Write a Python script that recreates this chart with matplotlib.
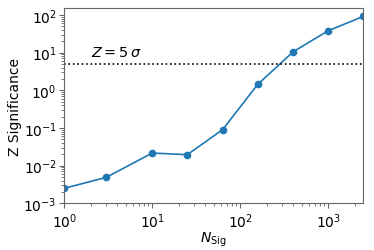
import matplotlib
matplotlib.use("Agg")
import matplotlib.pyplot as plt

n_sig = [1, 3, 10, 25, 63, 158, 400, 1000, 2500]
z_sig = [0.0025, 0.0049, 0.0216, 0.0195, 0.09, 1.43, 10.5, 38, 91]
z_threshold = 5

fig = plt.figure(figsize=(3.74, 2.51), dpi=100)
ax = fig.add_axes([0.172, 0.186, 0.799, 0.777])
ax.plot(n_sig, z_sig, marker='o', color='#1f77b4', markersize=4.5, linewidth=1.2)
ax.axhline(z_threshold, color='black', linestyle=':', linewidth=1.2)
ax.text(2, 7.9, r'$Z = 5\,\sigma$', fontsize=10.4)
ax.set_xscale('log')
ax.set_yscale('log')
ax.set_xlim(1, 2500)
ax.set_ylim(1e-3, 150)
ax.set_xlabel(r'$N_{\rm Sig}$', fontsize=10, labelpad=0)
ax.set_ylabel('Z Significance', fontsize=10, labelpad=1)
for s in ax.spines.values():
    s.set_color('0.4')
ax.tick_params(which='both', labelsize=10, color='0.4')
ax.tick_params(axis='x', pad=2)
ax.tick_params(axis='y', pad=2)
fig.savefig('out.png', dpi=100)
